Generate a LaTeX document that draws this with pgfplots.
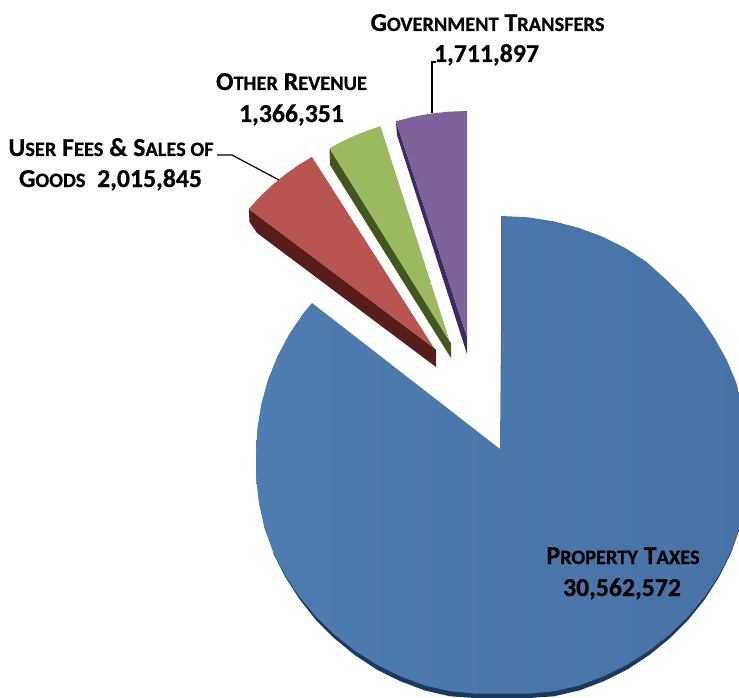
\documentclass[border=0pt]{standalone}
\usepackage{pgfplots}
\usepackage{fontspec}
\setmainfont{Carlito}[BoldFeatures={FakeBold=0.6}]
\pgfplotsset{compat=1.18}
\definecolor{bluetop}{RGB}{80,125,177}
\definecolor{blueright}{RGB}{70,114,166}
\definecolor{blueside}{RGB}{28,58,96}
\definecolor{redtop}{RGB}{184,85,81}
\definecolor{redside}{RGB}{88,30,28}
\definecolor{greentop}{RGB}{155,185,95}
\definecolor{greenside}{RGB}{68,86,32}
\definecolor{purpletop}{RGB}{126,98,155}
\definecolor{purpleside}{RGB}{58,44,92}
\newcommand{\bigf}{\fontsize{25.8}{30}\selectfont\bfseries}
\newcommand{\smf}[1]{{\fontsize{20.4}{24}\selectfont #1}}
\begin{document}
\begin{tikzpicture}
\useasboundingbox (0,0) rectangle (739pt,698pt);
\begin{axis}[
  at={(0,0)}, anchor=south west,
  scale only axis, width=739pt, height=698pt,
  xmin=0, xmax=739, ymin=0, ymax=698, y dir=reverse,
  axis lines=none, clip=true, no markers]
% Property Taxes side
\addplot[fill=blueside, draw=none, forget plot] coordinates {
(500,449)(739.5,529.3)(730.7,553.9)(718.9,577.2)(704.6,599.6)(688.1,620)(669.5,638.5)(649.2,655.1)(627.2,669.6)(603.8,681.2)(579.4,690.4)(553.9,696.3)(527.9,698.1)(502,698)(476.1,698.1)(450.1,696.3)(424.6,690.4)(400.2,681.2)(376.8,669.6)(354.8,655.1)(334.5,638.5)(315.9,620)(299.4,599)(285.1,576.7)(273.3,553.4)
};
% Property Taxes top
\addplot[left color=bluetop, right color=blueright, draw=none, forget plot] coordinates {
(500,449)(502,216)(527.7,217.3)(553.1,221.2)(578.0,227.6)(602.0,236.5)(625,247.8)(646.6,262)(666.6,280)(684.8,298)(701,318)(715,339)(726.7,360)(736,382)(742.6,405)(746.6,428.2)(748,453)(747.9,478.2)(745,503.4)(739.5,528.3)(730.7,552.4)(718.9,575.2)(704.6,596.6)(688.1,616.5)(669.5,634.5)(649.2,650.6)(627.2,664.6)(603.8,676.2)(579.4,685.4)(553.9,691.3)(527.9,693.6)(502,693.5)(476.1,693.6)(450.1,691.3)(424.6,685.4)(400.2,676.2)(376.8,664.6)(354.8,650.6)(334.5,634.5)(315.9,616.5)(299.4,596.6)(285.1,575.2)(273.3,552.4)(264.5,528.3)(259,503.4)(256.1,478.2)(256,453)(257.4,428.2)(261.4,403.7)(268.0,379.8)(277.3,356.6)(289.0,334.5)(303.0,313.7)(312,303)
};
\addplot[draw=black!60, line width=0.5pt, forget plot] coordinates {(501,216)(501,368)};
% User Fees
\addplot[fill=redside, draw=none, forget plot] coordinates {
(248.8,208.9)(249.5,222)(257,233)(436,367)(436,350)(434,348)};
\addplot[fill=redtop, draw=none, forget plot] coordinates {
(434,348)(248.8,208.9)(260.7,195.9)(272.4,184.9)(284.9,174.7)(298.1,165.3)(311.9,156.8)};
% Other Revenue
\addplot[fill=greenside, draw=none, forget plot] coordinates {
(329.5,148.3)(330,165)(451,358)(451,343)(450,342)};
\addplot[fill=greentop, draw=none, forget plot] coordinates {
(450,342)(329.5,148.3)(342,141.5)(354.8,135.6)(368.1,130.3)(380.4,126.2)};
% Government Transfers
\addplot[fill=purpleside, draw=none, forget plot] coordinates {
(395.9,121.2)(397,135)(467,354)(467,337)};
\addplot[fill=purpletop, draw=none, forget plot] coordinates {
(467,337)(395.9,121.2)(413.2,116.8)(429.6,113.8)(448.2,111.7)(467,111)};
% Leaders
\addplot[draw=black, line width=1.2pt, forget plot] coordinates {(217,155)(232,155)(279,180)};
\addplot[draw=black, line width=1.2pt, forget plot] coordinates {(436,62)(432,62)(432,113)};
% Labels
\node[anchor=base, inner sep=0pt] at (axis cs:487.5,31) {\bigf G\smf{OVERNMENT} T\smf{RANSFERS}};
\node[anchor=base, inner sep=0pt] at (axis cs:486.5,62) {\bigf 1,711,897};
\node[anchor=base, inner sep=0pt] at (axis cs:291.5,90) {\bigf O\smf{THER} R\smf{EVENUE}};
\node[anchor=base, inner sep=0pt] at (axis cs:291.5,122) {\bigf 1,366,351};
\node[anchor=base, inner sep=0pt] at (axis cs:111,156) {\bigf U\smf{SER} F\smf{EES} \& S\smf{ALES OF}};
\node[anchor=base, inner sep=0pt] at (axis cs:110.5,187) {\bigf G\smf{OODS}\ \ 2,015,845};
\node[anchor=base, inner sep=0pt] at (axis cs:623,564) {\bigf P\smf{ROPERTY} T\smf{AXES}};
\node[anchor=base, inner sep=0pt] at (axis cs:622,596) {\bigf 30,562,572};
\end{axis}
\end{tikzpicture}
\end{document}
